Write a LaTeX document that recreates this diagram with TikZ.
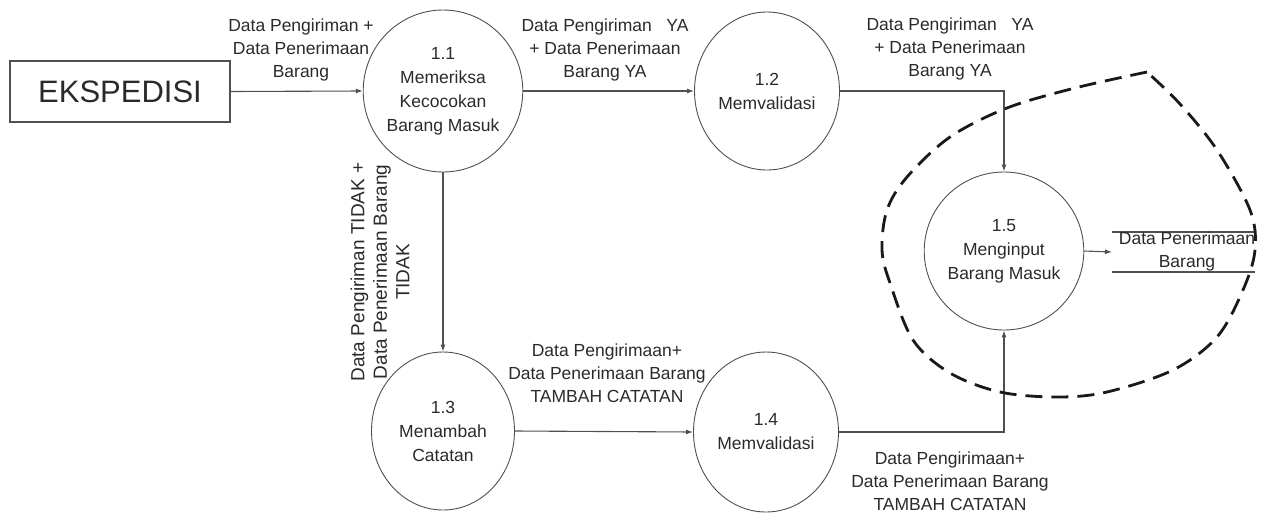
\documentclass[tikz,border=0pt]{standalone}
\usepackage{fontspec}
\setmainfont{Liberation Sans}
\usetikzlibrary{shapes.geometric,arrows.meta}
\definecolor{linegray}{HTML}{505050}
\definecolor{txtgray}{HTML}{2A2A2A}
\newcommand\flowfont{\fontsize{17.5}{23}\selectfont}
\begin{document}
\begin{tikzpicture}[x=1pt,y=-1pt,
  proc/.style={ellipse,draw=linegray,line width=0.9pt,inner sep=0pt,align=center,
    font=\fontsize{17.5}{24}\selectfont,text=txtgray},
  flow/.style={draw=linegray,line width=1.1pt,-{Latex[length=7pt,width=5pt]}},
  plain/.style={draw=linegray,line width=1.1pt},
  lbl/.style={align=center,font=\flowfont,text=txtgray,inner sep=0pt},
  boundary/.style={draw=black!90,line width=2.8pt,dash pattern=on 17pt off 9pt},
]
\useasboundingbox (0,0) rectangle (1261,515);

% external entity
\node[draw=linegray,line width=1.1pt,minimum width=220pt,minimum height=61pt,
  inner sep=0pt,text=txtgray,font=\fontsize{31}{36}\selectfont] (eks) at (120,91.5) {EKSPEDISI};

% processes
\node[proc,minimum width=143pt,minimum height=162pt] (p11) at (443,91)
  {1.1\\Memeriksa\\Kecocokan\\Barang Masuk};
\node[proc,minimum width=145pt,minimum height=158pt] (p12) at (767,91)
  {1.2\\Memvalidasi};
\node[proc,minimum width=143pt,minimum height=158pt] (p13) at (443,431)
  {1.3\\Menambah\\Catatan};
\node[proc,minimum width=145pt,minimum height=160pt] (p14) at (766,432)
  {1.4\\Memvalidasi};
\node[proc,minimum width=142pt,minimum height=158pt] (p15) at (1004,251)
  {1.5\\Menginput\\Barang Masuk};

% data store
\coordinate (dsin) at (1112,252);
\coordinate (dstl) at (1112,232);
\coordinate (dstr) at (1255,232);
\coordinate (dsbl) at (1112,272);
\coordinate (dsbr) at (1255,272);
\draw[plain] (dstl) -- (dstr);
\draw[plain] (dsbl) -- (dsbr);
\node[lbl] (dstxt) at (1187,251) {Data Penerimaan\\Barang};

% data flows
\draw[flow] (eks.east) -- (p11.west);
\draw[flow] (p11.east) -- (p12.west);
\draw[flow] (p12.east) -| (p15.north);
\draw[flow] (p11.south) -- (p13.north);
\draw[flow] (p13.east) -- (p14.west);
\draw[flow] (p14.east) -| (p15.south);
\draw[flow] (p15.east) -- (dsin);

% flow labels
\node[lbl] (l1) at (301,50) {Data Pengiriman +\\Data Penerimaan\\Barang};
\node[lbl] (l2) at (605,50) {Data Pengiriman\ \ \ YA\\+ Data Penerimaan\\Barang YA};
\node[lbl] (l3) at (950,49) {Data Pengiriman\ \ \ YA\\+ Data Penerimaan\\Barang YA};
\node[lbl,rotate=90,font=\fontsize{19}{22.5}\selectfont] (l4) at (380,272)
  {Data Pengiriman TIDAK +\\Data Penerimaan Barang\\TIDAK};
\node[lbl] (l5) at (607,373) {Data Pengirimaan+\\Data Penerimaan Barang\\TAMBAH CATATAN};
\node[lbl] (l6) at (950,481) {Data Pengirimaan+\\Data Penerimaan Barang\\TAMBAH CATATAN};

% dashed boundary around process 1.5
\draw[boundary] plot[smooth,tension=0.55] coordinates {
  (1147,72) (1075,88) (1007,108) (950,137) (907,177) (887,210) (882,250)
  (890,283) (913,340) (950,373) (1000,392) (1057,397) (1107,392) (1173,370)
  (1217,337) (1243,290) (1255,250) (1250,210) (1217,150) (1180,104) (1147,72)};
\end{tikzpicture}
\end{document}
